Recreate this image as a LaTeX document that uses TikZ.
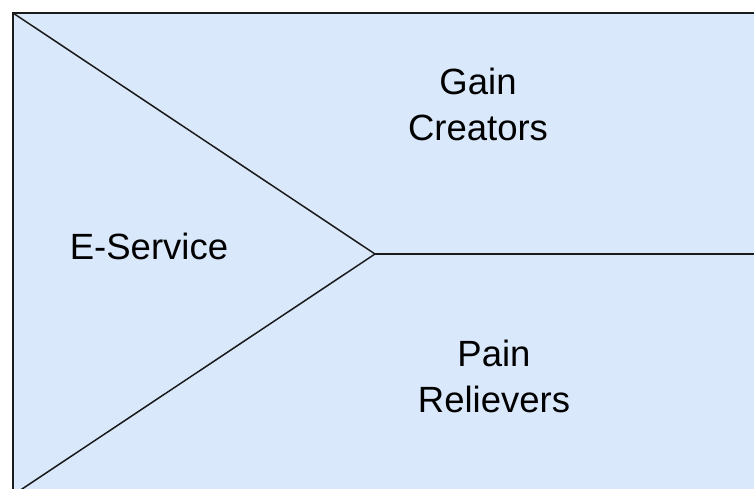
\documentclass[tikz,border=0pt]{standalone}
\usepackage{fontspec}
\setmainfont{Liberation Sans}
\definecolor{panelfill}{HTML}{DAE8FC}
\definecolor{panelline}{HTML}{1A1A1A}
\begin{document}
\begin{tikzpicture}[x=1pt,y=-1pt,
  label text/.style={font=\fontsize{36.5}{46}\selectfont, align=center, inner sep=0pt, text=black},
  divider/.style={draw=panelline, line width=1.5pt}]
  \useasboundingbox (0,0) rectangle (754,488);
  \clip (0,0) rectangle (754,488);
  % background panel (runs past the right and bottom edges)
  \filldraw[fill=panelfill, draw=panelline, line width=1.8pt] (13,13) rectangle (780,500);
  % wedge dividing the panel into three fields
  \coordinate (topcorner) at (13,13);
  \coordinate (apex) at (375,254);
  \coordinate (botcorner) at (13,495);
  \coordinate (rightend) at (780,254);
  \draw[divider] (topcorner) -- (apex) -- (botcorner);
  \draw[divider] (apex) -- (rightend);
  % field labels
  \node[label text, anchor=base] (service) at (149,259) {E-Service};
  \node[label text] (gain) at (478,104.5) {Gain\\Creators};
  \node[label text] (pain) at (494,376) {Pain\\Relievers};
\end{tikzpicture}
\end{document}
